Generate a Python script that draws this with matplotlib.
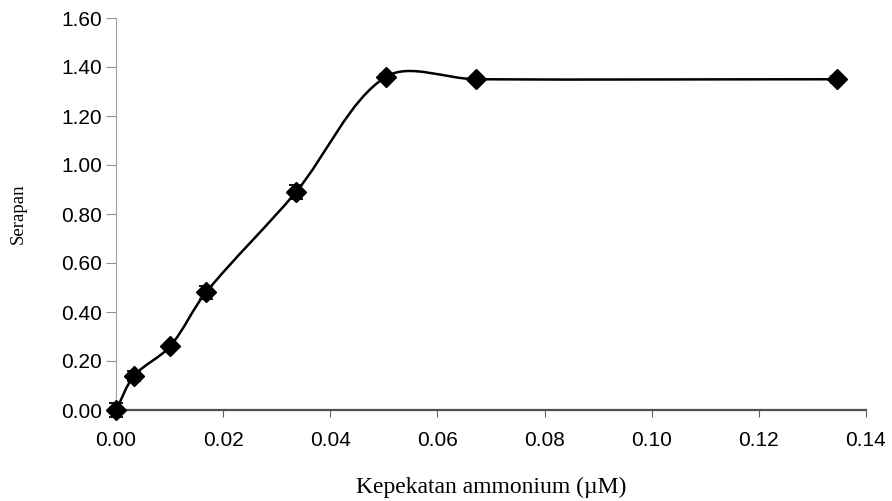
import numpy as np
import matplotlib.pyplot as plt
from matplotlib.path import Path
from matplotlib.patches import PathPatch

# kepekatan ammonium (uM) dan serapan
kepekatan = [0.0, 0.0034, 0.0101, 0.0168, 0.0336, 0.0504, 0.0672, 0.1345]
serapan = [0.00, 0.14, 0.26, 0.48, 0.89, 1.36, 1.35, 1.35]
ralat = [0.03, 0.02, 0.01, 0.025, 0.03, 0.01, 0.01, 0.015]

x_ticks = [0.00, 0.02, 0.04, 0.06, 0.08, 0.10, 0.12, 0.14]
y_ticks = [0.00, 0.20, 0.40, 0.60, 0.80, 1.00, 1.20, 1.40, 1.60]

plt.rcParams["font.family"] = ["Liberation Sans", "DejaVu Sans"]
serif = ["Liberation Serif", "DejaVu Serif"]

fig = plt.figure(figsize=(8.92, 5.01), dpi=100)
ax = fig.add_axes([116 / 892, 91 / 501, 750 / 892, 392 / 501])
ax.set_xlim(0, 0.14)
ax.set_ylim(0, 1.60)

# garis licin ala Excel, dikira dalam koordinat paparan
pts = ax.transData.transform(np.column_stack([kepekatan, serapan]))
n = len(pts)
verts = [pts[0]]
codes = [Path.MOVETO]
for i in range(n - 1):
    p0 = pts[max(i - 1, 0)]
    p1 = pts[i]
    p2 = pts[i + 1]
    p3 = pts[min(i + 2, n - 1)]
    d01 = np.hypot(*(p1 - p0))
    d12 = np.hypot(*(p2 - p1))
    d23 = np.hypot(*(p3 - p2))
    c1 = p1 + (p2 - p0) * d12 / max(d01 + d12, 1e-9) / 3.0
    c2 = p2 - (p3 - p1) * d12 / max(d12 + d23, 1e-9) / 3.0
    verts += [c1, c2, p2]
    codes += [Path.CURVE4] * 3
verts = ax.transData.inverted().transform(np.array(verts))
ax.add_patch(PathPatch(Path(verts, codes), fill=False, edgecolor="black", lw=1.8, zorder=2))

ax.errorbar(kepekatan, serapan, yerr=ralat, fmt="D", color="black", ms=10,
            ecolor="black", elinewidth=1.3, capsize=5, capthick=1.3, zorder=3,
            clip_on=False)

ax.set_xticks(x_ticks)
ax.set_yticks(y_ticks)
ax.set_xticklabels(["%.2f" % v for v in x_ticks])
ax.set_yticklabels(["%.2f" % v for v in y_ticks])
ax.tick_params(axis="x", labelsize=15, length=5, color="#606060", pad=10)
ax.tick_params(axis="y", labelsize=15, length=7, color="#909090", pad=3)

for s in ["top", "right"]:
    ax.spines[s].set_visible(False)
ax.spines["left"].set_color("#a0a0a0")
ax.spines["bottom"].set_color("#505050")
ax.spines["bottom"].set_linewidth(1.6)

ax.set_xlabel("Kepekatan ammonium (µM)", family=serif, fontsize=17, va="baseline")
ax.xaxis.set_label_coords(0.5, -0.2117)
ax.set_ylabel("Serapan", family=serif, fontsize=13.5, va="center")
ax.yaxis.set_label_coords(-0.1307, 0.5)

fig.savefig("out.png", dpi=100)
